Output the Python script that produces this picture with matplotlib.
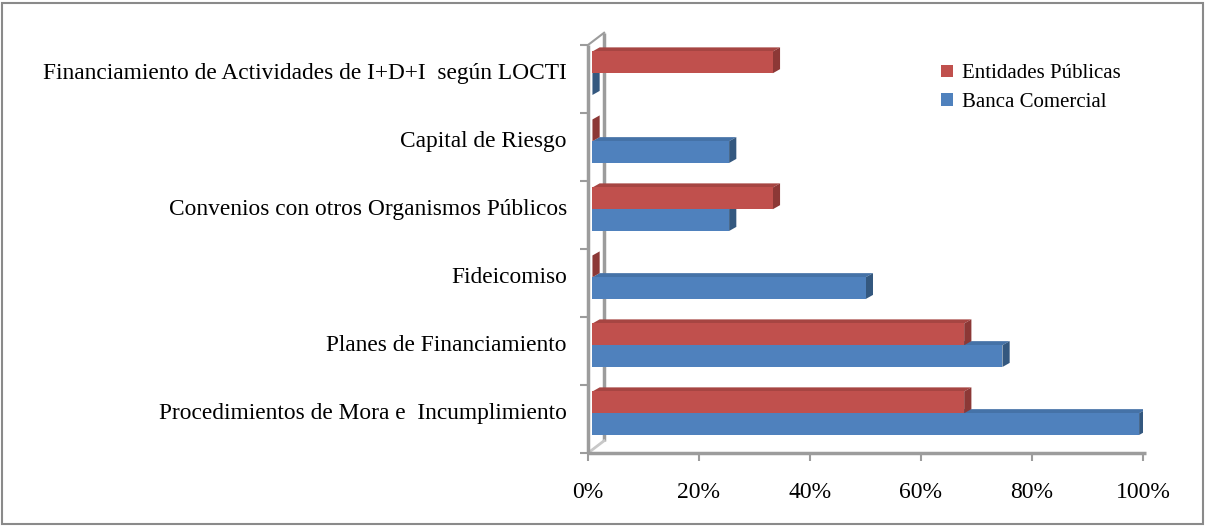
import matplotlib
matplotlib.use("Agg")
import matplotlib.pyplot as plt
from matplotlib.patches import Polygon, Patch, Rectangle

plt.rcParams["font.family"] = ["Liberation Serif", "DejaVu Serif"]

# categorias de arriba hacia abajo
categories = [
    "Financiamiento de Actividades de I+D+I  según LOCTI",
    "Capital de Riesgo",
    "Convenios con otros Organismos Públicos",
    "Fideicomiso",
    "Planes de Financiamiento",
    "Procedimientos de Mora e  Incumplimiento",
]
entidades_publicas = [33, 0, 33, 0, 68, 68]
banca_comercial = [0, 25, 25, 50, 75, 100]
x_ticks = [0, 20, 40, 60, 80, 100]
x_tick_labels = ["0%", "20%", "40%", "60%", "80%", "100%"]

RED = "#C0504D"
RED_SIDE = "#8C3836"
RED_TOP = "#A64542"
BLUE = "#4F81BD"
BLUE_SIDE = "#34587F"
BLUE_TOP = "#4572A7"
WALL = "#9C9C9C"

BAR_H = 0.32
DX = 1.3    # profundidad 3D en %
DY = 0.06   # profundidad 3D en unidades de categoria

fig = plt.figure(figsize=(12.06, 5.26), dpi=100)
ax = fig.add_axes([588 / 1206, 1 - 453 / 526, 555 / 1206, 408 / 526])

n = len(categories)
ypos = [n - 1 - i for i in range(n)]


def bar3d(ax, y, value, color, side, top):
    # cara frontal, superior y lateral
    y0 = y - BAR_H / 2
    y1 = y + BAR_H / 2
    x0 = 0.8
    x1 = x0 + value * 0.985
    ax.add_patch(Polygon([(x0, y1), (x0 + DX, y1 + DY), (x1 + DX, y1 + DY), (x1, y1)],
                         closed=True, facecolor=top, edgecolor="none", zorder=3))
    ax.add_patch(Polygon([(x1, y0), (x1, y1), (x1 + DX, y1 + DY), (x1 + DX, y0 + DY)],
                         closed=True, facecolor=side, edgecolor="none", zorder=3))
    ax.add_patch(Rectangle((x0, y0), x1 - x0, BAR_H, facecolor=color,
                           edgecolor="none", zorder=4))


# primero azul (abajo) y luego rojo (arriba) para que se solapen como en Excel
for y, v in zip(ypos, banca_comercial):
    bar3d(ax, y - 0.075, v, BLUE, BLUE_SIDE, BLUE_TOP)
for y, v in zip(ypos, entidades_publicas):
    bar3d(ax, y + 0.245, v, RED, RED_SIDE, RED_TOP)

ax.set_xlim(0, 100)
ax.set_ylim(-0.5, n - 0.5)

# pared y piso en gris
wall_dx = 2.9
wall_dy = 0.18
ax.plot([0, 0], [-0.5, n - 0.5], color=WALL, lw=2.5, zorder=2, clip_on=False, solid_capstyle="butt")
ax.plot([wall_dx, wall_dx], [-0.5 + wall_dy, n - 0.5 + wall_dy], color=WALL, lw=2.5,
        zorder=1, clip_on=False, solid_capstyle="butt")
ax.plot([0, wall_dx], [n - 0.5, n - 0.5 + wall_dy], color=WALL, lw=1.5, zorder=1, clip_on=False)
ax.plot([0, wall_dx], [-0.5, -0.5 + wall_dy], color="#C8C8C8", lw=2.0, zorder=1, clip_on=False)
ax.plot([0, 100.5], [-0.5, -0.5], color=WALL, lw=2.5, zorder=2, clip_on=False, solid_capstyle="butt")

for s in ax.spines.values():
    s.set_visible(False)

ax.set_xticks(x_ticks)
ax.set_xticklabels(x_tick_labels, fontsize=17)
ax.tick_params(axis="x", length=6, width=1.5, color=WALL, pad=15)

band_edges = [k - 0.5 for k in range(n + 1)]
ax.set_yticks(band_edges)
ax.set_yticklabels([])
ax.tick_params(axis="y", length=6, width=1.5, color=WALL)
for y, label in zip(ypos, categories):
    ax.text(-3.8, y + 0.08, label, ha="right", va="center", fontsize=16.8)

handles = [Patch(facecolor=RED, edgecolor="none", label="Entidades Públicas"),
           Patch(facecolor=BLUE, edgecolor="none", label="Banca Comercial")]
fig.legend(handles=handles, loc="upper left", bbox_to_anchor=(933 / 1206, 1 - 56 / 526),
           frameon=False, fontsize=15, handlelength=0.55, handleheight=0.55,
           handletextpad=0.45, labelspacing=0.45, borderaxespad=0)

# borde del area del grafico
fig.add_artist(Rectangle((2 / 1206, 2 / 526), 1201 / 1206, 521 / 526, transform=fig.transFigure,
                         fill=False, edgecolor="#8A8A8A", lw=1.5))

fig.savefig("out.png", dpi=100)
